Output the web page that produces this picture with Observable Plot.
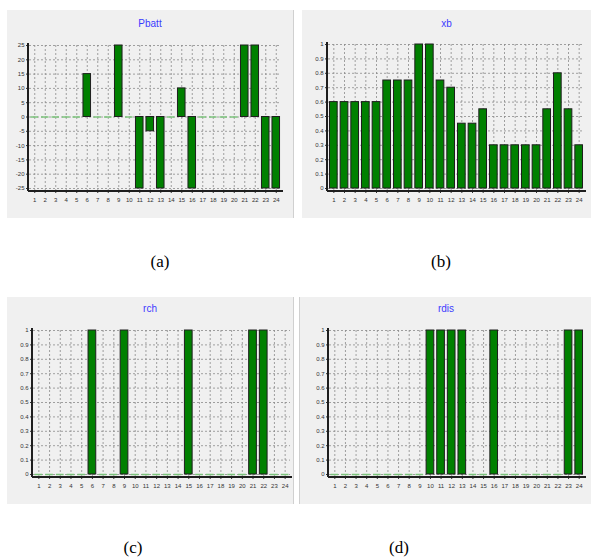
<!DOCTYPE html>
<html>
<head>
<meta charset="utf-8">
<script src="https://cdn.jsdelivr.net/npm/d3@7"></script>
<script src="https://cdn.jsdelivr.net/npm/@observablehq/plot@0.6"></script>
<style>
  html, body { margin: 0; padding: 0; background: #fff; }
  #root { position: relative; width: 591px; height: 559px; overflow: hidden; }
  .panel { position: absolute; background: #f0f0f0; }
  .panel svg { position: absolute; left: 0; top: 0; }
  .ptitle { position: absolute; left: 0; right: 0; text-align: center; font: 10px "Liberation Sans", Arial, sans-serif; color: #3b3bff; }
  .cap { position: absolute; font: 17px "Liberation Serif", "Times New Roman", serif; color: #000; transform: translateX(-50%); }
</style>
</head>
<body>
<div id="root"></div>
<script>
const hours = [1,2,3,4,5,6,7,8,9,10,11,12,13,14,15,16,17,18,19,20,21,22,23,24];
const pbatt = [0,0,0,0,0,15,0,0,25,0,-25,-5,-25,0,10,-25,0,0,0,0,25,25,-25,-25];
const xb = [0.6,0.6,0.6,0.6,0.6,0.75,0.75,0.75,1,1,0.75,0.7,0.45,0.45,0.55,0.3,0.3,0.3,0.3,0.3,0.55,0.8,0.55,0.3];
const rch = [0,0,0,0,0,1,0,0,1,0,0,0,0,0,1,0,0,0,0,0,1,1,0,0];
const rdis = [0,0,0,0,0,0,0,0,0,1,1,1,1,0,0,1,0,0,0,0,0,0,1,1];
const ticksPbatt = [-25,-20,-15,-10,-5,0,5,10,15,20,25];
const ticksUnit = [0,0.1,0.2,0.3,0.4,0.5,0.6,0.7,0.8,0.9,1];
const titles = ["Pbatt", "xb", "rch", "rdis"];
const captions = ["(a)", "(b)", "(c)", "(d)"];

const panels = [
  {title: titles[0], values: pbatt, ticks: ticksPbatt, domain: [-25, 25], left: 7, top: 10, width: 286, height: 208, ml: 22, mr: 12, mt: 35, mb: 27, titleTop: 8, border: "right"},
  {title: titles[1], values: xb, ticks: ticksUnit, domain: [0, 1], left: 302, top: 10, width: 289, height: 208, ml: 26, mr: 7, mt: 34, mb: 27, titleTop: 8},
  {title: titles[2], values: rch, ticks: ticksUnit, domain: [0, 1], left: 7, top: 297, width: 286, height: 207, ml: 26, mr: 3, mt: 33, mb: 27, titleTop: 6, border: "right"},
  {title: titles[3], values: rdis, ticks: ticksUnit, domain: [0, 1], left: 299, top: 297, width: 292, height: 207, ml: 29, mr: 8, mt: 33, mb: 27, titleTop: 6, border: "left"}
];

const capPos = [[160, 252], [441, 252], [133, 538], [399, 538]];

function axisLines(index, scales, values, dim) {
  const g = d3.create("svg:g").attr("stroke", "#1e1e1e").attr("stroke-width", 2).attr("fill", "none");
  const x0 = dim.marginLeft - 1, x1 = dim.width - dim.marginRight + 2;
  const y0 = dim.marginTop, y1 = dim.height - dim.marginBottom;
  g.append("line").attr("x1", x0).attr("x2", x0).attr("y1", y0 - 2).attr("y2", y1);
  g.append("line").attr("x1", x0).attr("x2", x1).attr("y1", y1).attr("y2", y1);
  return g.node();
}

const root = document.getElementById("root");
panels.forEach((p, i) => {
  const data = hours.map((h, j) => ({h, v: p.values[j]}));
  const div = document.createElement("div");
  div.className = "panel";
  Object.assign(div.style, {left: p.left + "px", top: p.top + "px", width: p.width + "px", height: p.height + "px"});
  if (p.border === "right") div.style.borderRight = "1px solid #d0d0d0";
  if (p.border === "left") div.style.borderLeft = "1px solid #d0d0d0";
  const chart = Plot.plot({
    width: p.width,
    height: p.height,
    marginLeft: p.ml,
    marginRight: p.mr,
    marginTop: p.mt,
    marginBottom: p.mb,
    style: {background: "transparent", fontSize: "6px", fontFamily: "'Liberation Sans', Arial, sans-serif", color: "#333", overflow: "visible"},
    x: {type: "band", domain: hours, paddingInner: 0.28, paddingOuter: 0.14, round: false, label: null, tickSize: 2, tickPadding: 4},
    y: {domain: p.domain, ticks: p.ticks, label: null, tickSize: 3, tickPadding: 2, insetBottom: 3, tickFormat: d => String(d)},
    marks: [
      Plot.gridX(hours, {stroke: "#8a8a8a", strokeOpacity: 1, strokeDasharray: "2,2", strokeWidth: 0.8}),
      Plot.gridY(p.ticks, {stroke: "#8a8a8a", strokeOpacity: 1, strokeDasharray: "2,2", strokeWidth: 0.8}),
      Plot.tickY(data.filter(d => d.v === 0), {x: "h", y: "v", stroke: "#7cc47c", strokeWidth: 1.5}),
      Plot.barY(data.filter(d => d.v !== 0), {x: "h", y1: 0, y2: "v", fill: "#008000", stroke: "#1e1e1e", strokeWidth: 1}),
      axisLines
    ]
  });
  div.appendChild(chart);
  const t = document.createElement("div");
  t.className = "ptitle";
  t.style.top = p.titleTop + "px";
  t.textContent = p.title;
  div.appendChild(t);
  root.appendChild(div);

  const c = document.createElement("div");
  c.className = "cap";
  c.style.left = capPos[i][0] + "px";
  c.style.top = capPos[i][1] + "px";
  c.textContent = captions[i];
  root.appendChild(c);
});
</script>
</body>
</html>
